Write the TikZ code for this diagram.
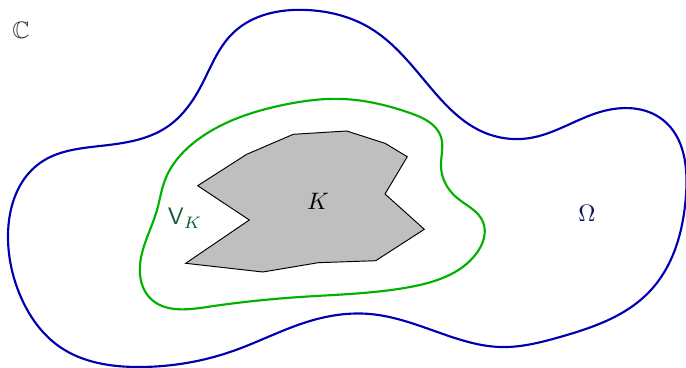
\documentclass[tikz,border=0pt]{standalone}
\usepackage{amssymb}
\usetikzlibrary{hobby}
\definecolor{omegablue}{RGB}{0,0,178}
\definecolor{vgreen}{RGB}{0,178,0}
\definecolor{vtext}{RGB}{10,90,50}
\definecolor{otext}{RGB}{20,20,90}
\tikzset{
  omegacurve/.style={draw=omegablue, line width=0.9pt},
  vcurve/.style={draw=vgreen, line width=0.9pt},
  kset/.style={draw=black, fill=black!25, line width=0.4pt, line join=miter},
  lbl/.style={inner sep=0pt}
}
\begin{document}
\begin{tikzpicture}[x=0.42pt,y=-0.42pt]
\useasboundingbox (0,0) rectangle (686,368);
% Omega
\draw[omegacurve, use Hobby shortcut, closed=true]
(8,235) .. (40,163) .. (100,146) .. (167,127) .. (200,88) .. (233,33)
.. (307,10) .. (370,28) .. (430,87) .. (483,132) .. (530,138) .. (600,112)
.. (663,120) .. (686,195) .. (650,291) .. (560,337) .. (500,347) .. (443,334)
.. (370,314) .. (310,321) .. (233,351) .. (140,367) .. (60,347) .. (20,295);
% V_K
\draw[vcurve, use Hobby shortcut, closed=true]
(165,180) .. (200,138) .. (283,105) .. (343,99) .. (410,113) .. (441,137)
.. (441,167) .. (456,197) .. (483,222) .. (476,254) .. (410,287) .. (300,297)
.. (207,307) .. (150,298) .. (140,265) .. (157,210);
% K
\draw[kset] (197.7,185.7) -- (246.7,154.3) -- (293.3,134.3) -- (346.7,131)
 -- (385,143.3) -- (407.3,156.7) -- (385,194) -- (424.3,229.3) -- (375.7,260.7)
 -- (318.3,262.7) -- (262.7,272) -- (185.7,263.3) -- (249.3,220) -- cycle;
\node[lbl, text=black!80] (C) at (21,30) {$\mathbb{C}$};
\node[lbl, text=vtext] (VK) at (185,218) {$\mathsf{V}_K$};
\node[lbl] (K) at (318,201) {$K$};
\node[lbl, text=otext] (Om) at (587,213) {$\Omega$};
\end{tikzpicture}
\end{document}
